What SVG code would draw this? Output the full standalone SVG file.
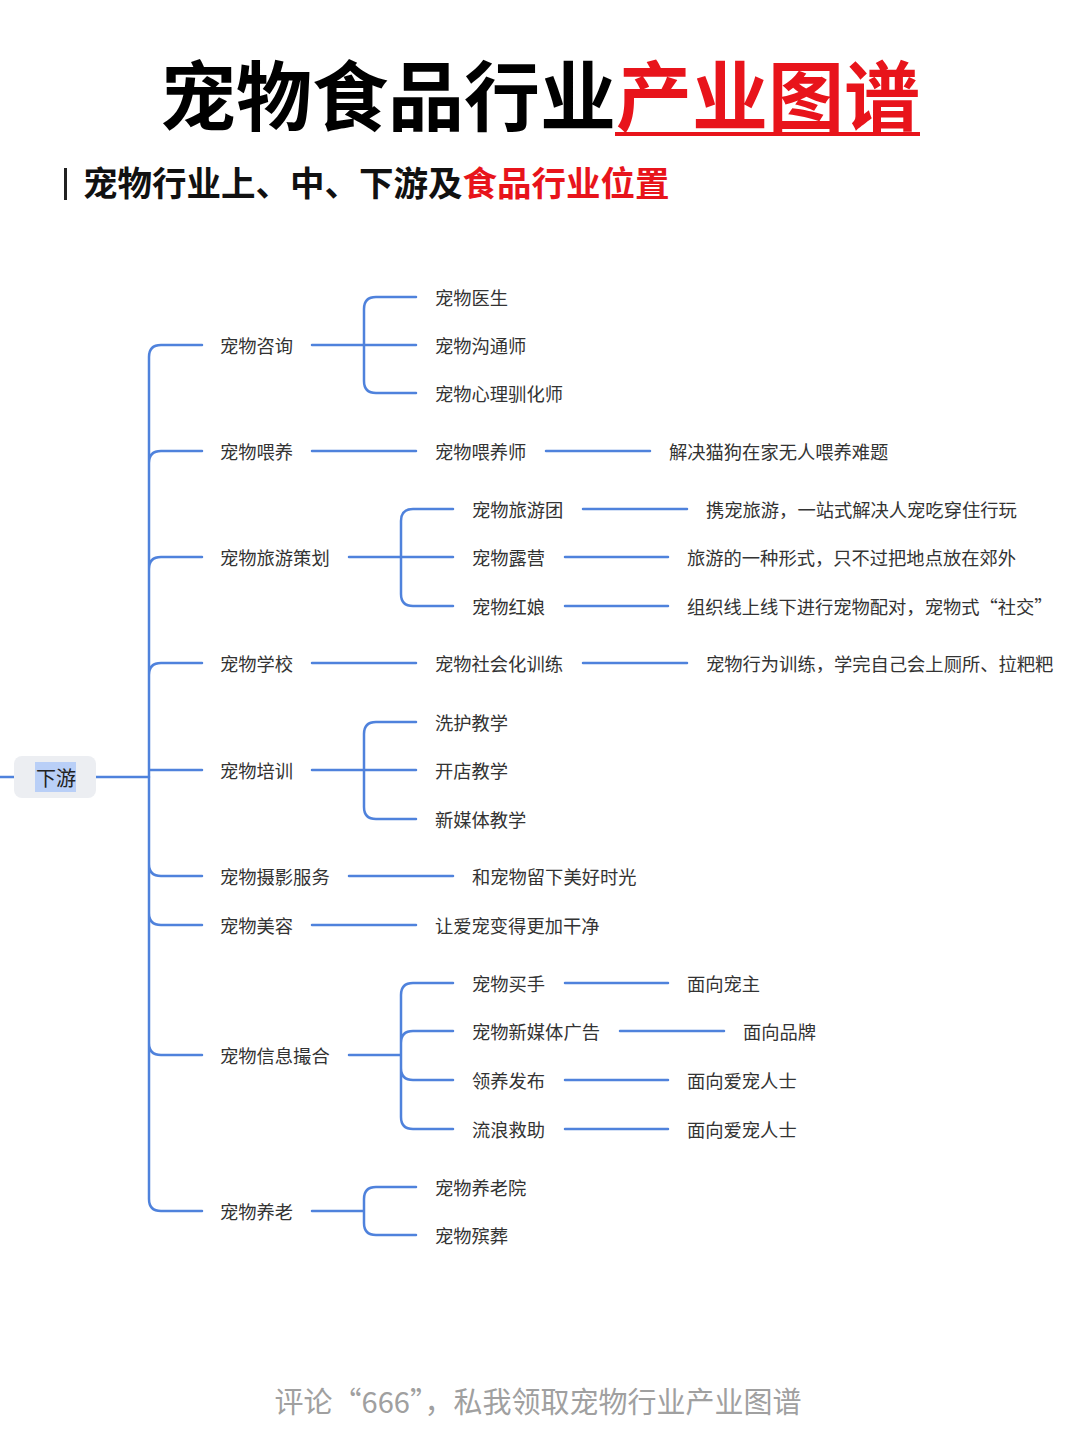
<svg xmlns="http://www.w3.org/2000/svg" width="1080" height="1440" viewBox="0 0 1080 1440">
<style>
.c{fill:none;stroke:#4f82dc;stroke-width:2.5;stroke-linecap:round}
.t{font-family:"Noto Sans CJK SC","Liberation Sans",sans-serif;font-size:18.3px;fill:#333;dominant-baseline:central}
.h{font-family:"Noto Sans CJK SC","Liberation Sans",sans-serif;font-weight:bold}
</style>
<rect width="1080" height="1440" fill="#fff"/>
<g id="title">
<text x="160" y="125" class="h" font-size="76" fill="#000">宠物食品行业<tspan fill="#e8141b">产业图谱</tspan></text>
<rect x="615" y="132" width="305" height="4" fill="#e8141b"/>
<rect x="64" y="168" width="3" height="32" fill="#222"/>
<text x="83" y="196" class="h" font-size="34.5" fill="#111">宠物行业上、中、下游及<tspan fill="#e8141b">食品行业位置</tspan></text>
</g>
<g id="connectors">
<path class="c" d="M0 777H14M96 777H149"/>
<path class="c" d="M149 777V357Q149 345 161 345H202M149 777V463Q149 451 161 451H202M149 777V569Q149 557 161 557H202M149 777V675Q149 663 161 663H202M149 770H202M149 777V864Q149 876 161 876H202M149 777V913Q149 925 161 925H202M149 777V1043Q149 1055 161 1055H202M149 777V1199Q149 1211 161 1211H202"/>
<path class="c" d="M312 345H416M364 345V309Q364 297 376 297H416M364 345V381Q364 393 376 393H416"/>
<path class="c" d="M312 451H416M546 451H650"/>
<path class="c" d="M349 557H453M401 557V521Q401 509 413 509H453M401 557V594Q401 606 413 606H453M583 509H687M565 557H668M565 606H668"/>
<path class="c" d="M312 663H416M583 663H687"/>
<path class="c" d="M312 770H416M364 770V734Q364 722 376 722H416M364 770V807Q364 819 376 819H416"/>
<path class="c" d="M349 876H453M312 925H416"/>
<path class="c" d="M349 1055H401M401 1055V995Q401 983 413 983H453M401 1055V1043Q401 1031 413 1031H453M401 1055V1068Q401 1080 413 1080H453M401 1055V1117Q401 1129 413 1129H453M565 983H668M620 1031H724M565 1080H668M565 1129H668"/>
<path class="c" d="M312 1211H364M364 1211V1199Q364 1187 376 1187H416M364 1211V1223Q364 1235 376 1235H416"/>
</g>
<g id="root">
<rect x="14" y="756" width="82" height="42" rx="8" fill="#eceef2"/>
<rect x="35" y="762" width="41" height="30" fill="#b9cff7"/>
<text x="36" y="777" class="t" style="font-size:20px;fill:#222">下游</text>
</g>
<g id="l1">
<text x="220" y="345" class="t">宠物咨询</text>
<text x="220" y="451" class="t">宠物喂养</text>
<text x="220" y="557" class="t">宠物旅游策划</text>
<text x="220" y="663" class="t">宠物学校</text>
<text x="220" y="770" class="t">宠物培训</text>
<text x="220" y="876" class="t">宠物摄影服务</text>
<text x="220" y="925" class="t">宠物美容</text>
<text x="220" y="1055" class="t">宠物信息撮合</text>
<text x="220" y="1211" class="t">宠物养老</text>
</g>
<g id="l2">
<text x="435" y="297" class="t">宠物医生</text>
<text x="435" y="345" class="t">宠物沟通师</text>
<text x="435" y="393" class="t">宠物心理驯化师</text>
<text x="435" y="451" class="t">宠物喂养师</text>
<text x="669" y="451" class="t">解决猫狗在家无人喂养难题</text>
<text x="472" y="509" class="t">宠物旅游团</text>
<text x="472" y="557" class="t">宠物露营</text>
<text x="472" y="606" class="t">宠物红娘</text>
<text x="706" y="509" class="t">携宠旅游，一站式解决人宠吃穿住行玩</text>
<text x="687" y="557" class="t">旅游的一种形式，只不过把地点放在郊外</text>
<text x="687" y="606" class="t">组织线上线下进行宠物配对，宠物式“社交”</text>
<text x="435" y="663" class="t">宠物社会化训练</text>
<text x="706" y="663" class="t">宠物行为训练，学完自己会上厕所、拉粑粑</text>
<text x="435" y="722" class="t">洗护教学</text>
<text x="435" y="770" class="t">开店教学</text>
<text x="435" y="819" class="t">新媒体教学</text>
<text x="472" y="876" class="t">和宠物留下美好时光</text>
<text x="435" y="925" class="t">让爱宠变得更加干净</text>
<text x="472" y="983" class="t">宠物买手</text>
<text x="472" y="1031" class="t">宠物新媒体广告</text>
<text x="472" y="1080" class="t">领养发布</text>
<text x="472" y="1129" class="t">流浪救助</text>
<text x="687" y="983" class="t">面向宠主</text>
<text x="743" y="1031" class="t">面向品牌</text>
<text x="687" y="1080" class="t">面向爱宠人士</text>
<text x="687" y="1129" class="t">面向爱宠人士</text>
<text x="435" y="1187" class="t">宠物养老院</text>
<text x="435" y="1235" class="t">宠物殡葬</text>
</g>
<text x="538" y="1400" class="t" style="font-size:29px;fill:#a0a0a0" text-anchor="middle">评论“666”，私我领取宠物行业产业图谱</text>
</svg>
